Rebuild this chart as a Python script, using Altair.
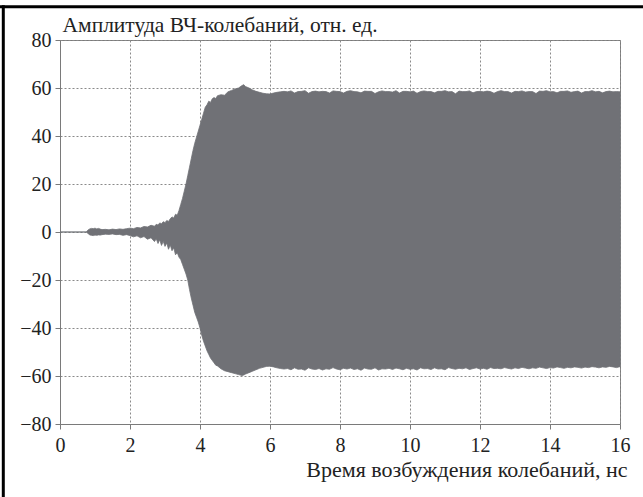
import altair as alt
import pandas as pd

# envelope of the HF oscillation (time in ns, amplitude in rel. units)
t_transient = [0.0, 0.75, 0.8, 0.85, 0.9, 0.95, 1.0, 1.05, 1.1, 1.15, 1.2, 1.3, 1.4, 1.5, 1.6, 1.7,
               1.8, 1.9, 2.0, 2.1, 2.2, 2.3, 2.4, 2.5, 2.6, 2.7, 2.75, 2.8, 2.85, 2.9, 2.95, 3.0,
               3.05, 3.1, 3.15, 3.2, 3.25, 3.3, 3.35, 3.4, 3.45, 3.5, 3.55, 3.6, 3.65, 3.7, 3.75,
               3.8, 3.85, 3.9, 3.95, 4.0, 4.05, 4.1, 4.15, 4.2, 4.25, 4.3, 4.35, 4.4, 4.45, 4.5,
               4.6, 4.7, 4.8, 4.9, 5.0, 5.1, 5.2, 5.25, 5.3, 5.4, 5.5, 5.6, 5.7, 5.8, 5.9, 6.0,
               6.1, 6.2, 6.3]
upper_transient = [0, 0, 0.8, 1.3, 1.5, 1.4, 1.6, 1.3, 1.5, 1.2, 1.0, 1.1, 0.9, 1.2, 1.0, 1.3,
                   1.1, 1.4, 1.6, 1.4, 1.9, 1.7, 2.3, 2.1, 2.8, 2.4, 3.2, 2.9, 3.8, 3.4, 4.3, 3.9,
                   4.8, 4.4, 5.5, 6.3, 5.8, 7.4, 7.0, 9.0, 11.5, 14.0, 17.0, 20.0, 23.5, 27.0, 30.5,
                   34.0, 37.0, 39.5, 42.0, 44.5, 47.0, 49.5, 52.0, 53.0, 54.5, 54.0, 55.5, 56.0, 55.6, 56.8,
                   57.2, 57.0, 58.4, 59.0, 59.6, 60.0, 61.0, 61.4, 60.6, 60.0, 59.2, 58.6, 58.2, 57.8, 57.6, 57.5,
                   57.9, 58.2, 58.4]
lower_transient = [0, 0, -0.6, -1.2, -1.4, -1.5, -1.3, -1.4, -1.2, -1.3, -1.1, -0.9, -1.0, -0.8, -1.1, -1.0,
                   -1.4, -1.1, -1.5, -2.0, -1.6, -2.4, -1.9, -3.0, -2.4, -4.0, -2.8, -4.8, -3.2, -5.6, -3.9, -6.0,
                   -4.6, -7.2, -5.4, -7.8, -6.6, -9.5, -8.6, -10.5, -11.5, -13.5, -15.5, -17.5, -20.0, -24.0, -27.5,
                   -30.5, -33.5, -35.5, -37.5, -40.0, -43.0, -45.5, -47.5, -49.5, -51.0, -52.5, -53.5, -54.5, -55.5, -55.8,
                   -57.0, -57.8, -58.2, -58.6, -59.0, -59.4, -59.8, -59.6, -59.2, -58.6, -58.0, -57.4, -56.8, -56.4, -56.0, -55.9,
                   -56.2, -56.6, -56.9]

# steady state 6.4 .. 16.0 ns, step 0.1
t_steady = [round(6.4 + 0.1 * i, 1) for i in range(97)]
upper_steady = [58.6, 58.4, 58.8, 57.9, 58.5, 58.6, 58.9, 57.8, 58.5, 58.7,
                58.4, 58.6, 58.5, 57.9, 58.8, 58.6, 58.5, 57.9, 58.6, 58.9,
                58.5, 58.4, 58.0, 58.7, 58.6, 58.6, 57.7, 58.4, 58.8, 58.5,
                58.5, 58.3, 58.9, 57.9, 58.6, 58.6, 58.4, 58.7, 57.8, 58.5,
                58.8, 58.5, 58.5, 58.0, 58.6, 58.6, 58.9, 58.4, 58.5, 57.6,
                58.7, 58.5, 58.5, 58.8, 58.0, 58.5, 58.6, 58.4, 58.7, 58.5,
                57.8, 58.5, 58.9, 58.5, 58.5, 57.9, 58.6, 58.5, 58.8, 58.3,
                58.5, 58.5, 57.7, 58.7, 58.6, 58.9, 58.4, 58.5, 58.0, 58.6,
                58.6, 58.8, 58.2, 58.5, 58.7, 57.9, 58.5, 58.5, 58.9, 58.4,
                58.6, 58.0, 58.5, 58.7, 58.4, 58.5, 58.4]
lower_steady = [-57.1, -56.9, -57.4, -56.6, -57.2, -57.1, -57.6, -56.6, -57.1, -57.3,
                -56.9, -57.5, -57.0, -57.2, -56.5, -57.1, -57.4, -56.8, -57.1, -56.7,
                -57.3, -57.0, -57.6, -56.7, -57.1, -57.2, -56.6, -57.5, -57.0, -57.1,
                -56.8, -57.3, -56.7, -57.0, -57.4, -56.8, -57.2, -57.0, -57.5, -56.6,
                -57.0, -56.9, -57.3, -56.6, -57.1, -57.0, -57.4, -56.5, -56.9, -57.2,
                -56.8, -57.0, -56.6, -57.3, -56.9, -56.6, -57.1, -56.8, -57.2, -56.5,
                -56.9, -56.8, -57.0, -56.5, -56.8, -57.1, -56.6, -56.9, -56.4, -56.7,
                -57.0, -56.6, -56.8, -56.3, -56.6, -56.9, -56.5, -56.7, -56.2, -56.5,
                -56.8, -56.4, -56.6, -56.2, -56.4, -56.7, -56.3, -56.5, -56.1, -56.3,
                -56.6, -56.2, -56.4, -56.0, -56.2, -56.5, -56.1]

x_ticks = [0, 2, 4, 6, 8, 10, 12, 14, 16]
y_ticks = [-80, -60, -40, -20, 0, 20, 40, 60, 80]

df = pd.DataFrame({
    "t": t_transient + t_steady,
    "upper": upper_transient + upper_steady,
    "lower": lower_transient + lower_steady,
})

FONT = "Liberation Serif"
FILL = "#707176"

area = alt.Chart(df).mark_area(color=FILL, stroke=FILL, strokeWidth=0.8, interpolate="linear").encode(
    x=alt.X("t:Q", scale=alt.Scale(domain=[0, 16], nice=False),
            axis=alt.Axis(values=x_ticks, title="Время возбуждения колебаний, нс",
                          titleAlign="right", titleAnchor="end", titleX=567, titleY=52,
                          titleBaseline="alphabetic", titleFontSize=22)),
    y=alt.Y("upper:Q", scale=alt.Scale(domain=[-80, 80], nice=False),
            axis=alt.Axis(values=y_ticks, title="Амплитуда ВЧ-колебаний, отн. ед.",
                          titleAngle=0, titleAlign="left", titleAnchor="start",
                          titleX=2, titleY=-9, titleBaseline="alphabetic", titleFontSize=21.5)),
    y2="lower:Q",
)

frame_df = pd.DataFrame({"k": [0]})
frame_top = alt.Chart(frame_df).mark_rule(color="black", strokeWidth=3).encode(
    x=alt.value(-62), x2=alt.value(600), y=alt.value(-33.3))
frame_left = alt.Chart(frame_df).mark_rule(color="black", strokeWidth=3).encode(
    x=alt.value(-56.7), y=alt.value(-34.8), y2=alt.value(480))

chart = alt.layer(area, frame_top, frame_left).properties(
    width=560, height=384,
    autosize=alt.AutoSizeParams(type="none"),
    padding={"left": 60, "top": 40, "right": 23, "bottom": 73},
    background="white",
).configure_view(
    stroke="#7a7a7a", strokeWidth=1
).configure_axis(
    labelFont=FONT, titleFont=FONT, labelFontSize=20,
    titleFontWeight="normal", labelColor="#222", titleColor="#222",
    domainColor="#7a7a7a", tickColor="#7a7a7a", tickSize=5,
    grid=True, gridColor="#8a8a8a", gridDash=[2, 2], gridWidth=1,
    labelFlush=False, labelOverlap=False,
).configure_axisX(labelPadding=6).configure_axisY(labelPadding=4)

chart.save("out.html", embed_options={"renderer": "svg", "actions": False})
